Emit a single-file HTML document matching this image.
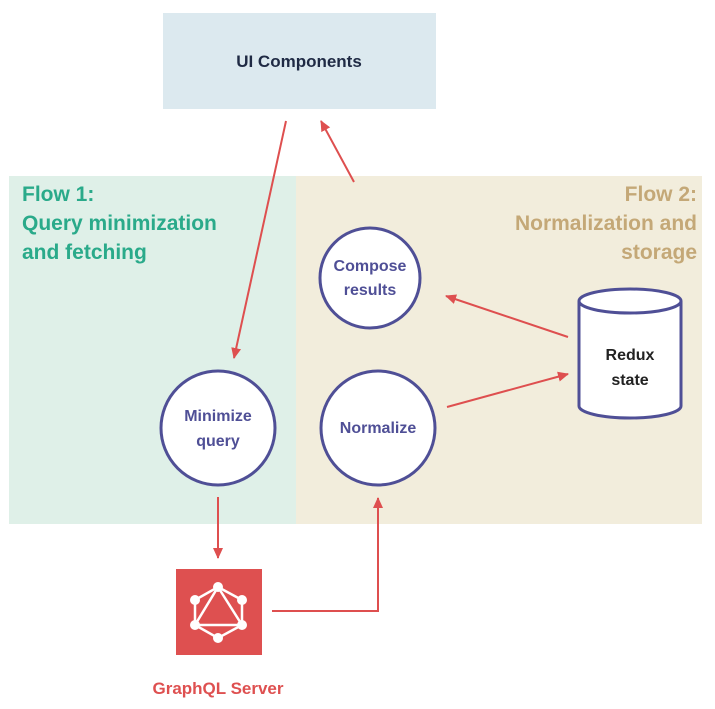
<!DOCTYPE html>
<html><head><style>
body{margin:0;width:715px;height:709px;background:#fff;overflow:hidden}
svg{display:block}
text{font-family:"Liberation Sans",sans-serif;font-weight:bold}
</style></head><body>
<svg width="715" height="709" viewBox="0 0 715 709">
<defs><marker id="a" markerWidth="12" markerHeight="12" refX="10" refY="6" orient="auto" markerUnits="userSpaceOnUse"><path d="M0,1 L11,6 L0,11 z" fill="#de4f4f"/></marker></defs>
<rect x="9" y="176" width="287" height="348" fill="#dff0e8"/>
<rect x="296" y="176" width="406" height="348" fill="#f2eddc"/>
<rect x="163" y="13" width="273" height="96" fill="#dce9ef"/>
<text x="299" y="67" font-size="17" fill="#1f2a44" text-anchor="middle">UI Components</text>
<g font-size="21">
<text x="22" y="201" fill="#2aaa8a">Flow 1:</text>
<text x="22" y="230" fill="#2aaa8a">Query minimization</text>
<text x="22" y="259" fill="#2aaa8a">and fetching</text>
<text x="697" y="201" fill="#c4a877" text-anchor="end">Flow 2:</text>
<text x="697" y="230" fill="#c4a877" text-anchor="end">Normalization and</text>
<text x="697" y="259" fill="#c4a877" text-anchor="end">storage</text>
</g>
<g fill="#fff" stroke="#4f4f96" stroke-width="3">
<circle cx="370" cy="278" r="50"/>
<circle cx="218" cy="428" r="57"/>
<circle cx="378" cy="428" r="57"/>
<path d="M579,301 L579,406 A51,12 0 0 0 681,406 L681,301"/>
<ellipse cx="630" cy="301" rx="51" ry="12"/>
</g>
<g font-size="16" fill="#4f4f96" text-anchor="middle">
<text x="370" y="271">Compose</text><text x="370" y="295">results</text>
<text x="218" y="421">Minimize</text><text x="218" y="446">query</text>
<text x="378" y="433">Normalize</text>
</g>
<text x="630" y="360" font-size="16" fill="#222" text-anchor="middle">Redux</text>
<text x="630" y="385" font-size="16" fill="#222" text-anchor="middle">state</text>
<g stroke="#de4f4f" stroke-width="2" fill="none" marker-end="url(#a)">
<line x1="286" y1="121" x2="234" y2="358"/>
<line x1="354" y1="182" x2="321" y2="121"/>
<line x1="568" y1="337" x2="446" y2="296"/>
<line x1="447" y1="407" x2="568" y2="374"/>
<line x1="218" y1="497" x2="218" y2="558"/>
<polyline points="272,611 378,611 378,498"/>
</g>
<rect x="176" y="569" width="86" height="86" fill="#de5050"/>
<g stroke="#fff" stroke-width="2.5" fill="none">
<polygon points="218,587 242,600 242,625 218,638 195,625 195,600"/>
<polygon points="218,587 242,625 195,625"/>
</g>
<g fill="#fff">
<circle cx="218" cy="587" r="5"/><circle cx="242" cy="600" r="5"/><circle cx="242" cy="625" r="5"/>
<circle cx="218" cy="638" r="5"/><circle cx="195" cy="625" r="5"/><circle cx="195" cy="600" r="5"/>
</g>
<text x="218" y="694" font-size="17" fill="#de5050" text-anchor="middle">GraphQL Server</text>
</svg>
</body></html>
